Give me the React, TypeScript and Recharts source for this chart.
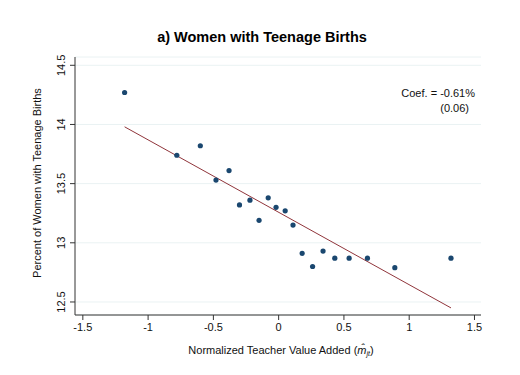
import React from "react";
import {
  ScatterChart,
  Scatter,
  XAxis,
  YAxis,
  CartesianGrid,
} from "recharts";

// binned scatter points
const valueAdded = [
  -1.18, -0.78, -0.6, -0.48, -0.38, -0.3, -0.22, -0.15, -0.08, -0.02,
  0.05, 0.11, 0.18, 0.26, 0.34, 0.43, 0.54, 0.68, 0.89, 1.32,
];
const teenBirths = [
  14.27, 13.74, 13.82, 13.53, 13.61, 13.32, 13.36, 13.19, 13.38, 13.3,
  13.27, 13.15, 12.91, 12.8, 12.93, 12.87, 12.87, 12.87, 12.79, 12.87,
];

// fitted line end points
const fitX = [-1.18, 1.32];
const fitY = [13.98, 12.45];

const xTicks = [-1.5, -1, -0.5, 0, 0.5, 1, 1.5];
const yTicks = [12.5, 13, 13.5, 14, 14.5];

const points = valueAdded.map((x, i) => ({ x, y: teenBirths[i] }));
const fitLine = fitX.map((x, i) => ({ x, y: fitY[i] }));

const FONT = "'Liberation Sans', Arial, sans-serif";
const DOT = "#1a476f";
const FIT = "#90353b";

const YTick = (props: any) => {
  const { y, payload } = props;
  return (
    <text
      x={61}
      y={y}
      transform={`rotate(-90, 61, ${y})`}
      textAnchor="middle"
      dominantBaseline="central"
      fontSize={11}
      fontFamily={FONT}
      fill="#111"
    >
      {payload.value}
    </text>
  );
};

const XTick = (props: any) => {
  const { x, y, payload } = props;
  return (
    <text
      x={x}
      y={y + 9}
      textAnchor="middle"
      fontSize={11}
      fontFamily={FONT}
      fill="#111"
    >
      {payload.value}
    </text>
  );
};

export default function App() {
  return (
    <div style={{ position: "absolute", left: 0, top: 0, width: 520, height: 375, background: "#fff" }}>
      <ScatterChart
        width={520}
        height={375}
        margin={{ top: 57, right: 39, bottom: 0, left: 0 }}
      >
        <CartesianGrid vertical={false} stroke="#eaf2f3" />
        <XAxis
          type="number"
          dataKey="x"
          domain={[-1.56, 1.55]}
          ticks={xTicks}
          height={60}
          stroke="#333"
          tickSize={5}
          tick={<XTick />}
          allowDataOverflow
        />
        <YAxis
          type="number"
          dataKey="y"
          domain={[12.39, 14.57]}
          ticks={yTicks}
          width={75}
          stroke="#333"
          tickSize={5}
          tick={<YTick />}
          allowDataOverflow
        />
        <Scatter
          data={fitLine}
          line={{ stroke: FIT, strokeWidth: 1 }}
          shape={() => <g />}
          isAnimationActive={false}
        />
        <Scatter
          data={points}
          fill={DOT}
          shape={(p: any) => <circle cx={p.cx} cy={p.cy} r={2.6} fill={DOT} />}
          isAnimationActive={false}
        />
        <text
          x={262}
          y={37}
          textAnchor="middle"
          dominantBaseline="central"
          fontSize={14.5}
          fontWeight="bold"
          fontFamily={FONT}
          fill="#000"
        >
          a) Women with Teenage Births
        </text>
        <text
          x={37}
          y={183}
          transform="rotate(-90, 37, 183)"
          textAnchor="middle"
          dominantBaseline="central"
          fontSize={11}
          fontFamily={FONT}
          fill="#111"
        >
          Percent of Women with Teenage Births
        </text>
        <text
          x={281}
          y={350}
          textAnchor="middle"
          dominantBaseline="central"
          fontSize={11}
          fontFamily={FONT}
          fill="#111"
        >
          Normalized Teacher Value Added (
          <tspan fontStyle="italic">m̂</tspan>
          <tspan fontSize={7} dy={3} fontStyle="italic">jt</tspan>
          <tspan dy={-3}>)</tspan>
        </text>
        <text x={475} y={93} textAnchor="end" dominantBaseline="central" fontSize={11} fontFamily={FONT} fill="#111">
          Coef. = -0.61%
        </text>
        <text x={469} y={108} textAnchor="end" dominantBaseline="central" fontSize={11} fontFamily={FONT} fill="#111">
          (0.06)
        </text>
      </ScatterChart>
    </div>
  );
}
